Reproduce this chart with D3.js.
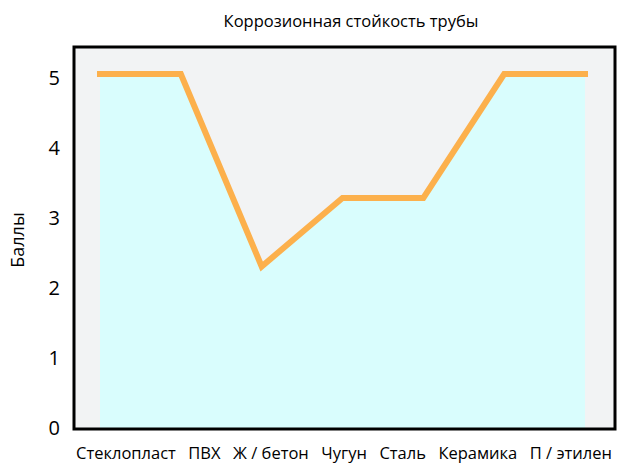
<!DOCTYPE html>
<html>
<head>
<meta charset="utf-8">
<script src="https://cdn.jsdelivr.net/npm/d3@7"></script>
<style>
  html, body { margin: 0; padding: 0; background: #ffffff; }
  svg { display: block; }
  text { font-family: "Open Sans", "Noto Sans", sans-serif; fill: #000; }
</style>
</head>
<body>
<svg id="chart" width="623" height="472"></svg>
<script>
// ---- data ----
const title = "Коррозионная стойкость трубы";
const yLabel = "Баллы";
const categories = ["Стеклопласт", "ПВХ", "Ж / бетон", "Чугун", "Сталь", "Керамика", "П / этилен"];
const values = [5, 5, 2.25, 3.23, 3.23, 5, 5];
const yTicks = [0, 1, 2, 3, 4, 5];

// ---- layout ----
const frame = { left: 74, top: 47, right: 615, bottom: 429 };
const svg = d3.select("#chart");

const x = d3.scalePoint().domain(categories).range([100, 585]);
const y = d3.scaleLinear().domain([0, 5]).range([424, 74]);

// background of plot
svg.append("rect")
  .attr("x", frame.left).attr("y", frame.top)
  .attr("width", frame.right - frame.left).attr("height", frame.bottom - frame.top)
  .attr("fill", "#f2f3f4");

const pts = categories.map((c, i) => ({ c, v: values[i] }));

// area
const area = d3.area()
  .x(d => x(d.c))
  .y0(frame.bottom)
  .y1(d => y(d.v));
svg.append("path").datum(pts)
  .attr("d", area)
  .attr("fill", "#d9fdfd");

// line
const line = d3.line().x(d => x(d.c)).y(d => y(d.v));
svg.append("path").datum(pts)
  .attr("d", line)
  .attr("fill", "none")
  .attr("stroke", "#fcb04c")
  .attr("stroke-width", 6)
  .attr("stroke-linecap", "square")
  .attr("stroke-linejoin", "miter");

// frame
svg.append("rect")
  .attr("x", frame.left).attr("y", frame.top)
  .attr("width", frame.right - frame.left).attr("height", frame.bottom - frame.top)
  .attr("fill", "none")
  .attr("stroke", "#000")
  .attr("stroke-width", 3);

// y axis labels
const yAxis = d3.axisLeft(y).tickValues(yTicks).tickSize(0).tickPadding(0).tickFormat(d3.format("d"));
const gy = svg.append("g").attr("transform", "translate(60,4)").call(yAxis);
gy.select(".domain").remove();
gy.selectAll("text")
  .attr("font-family", "'Open Sans', sans-serif")
  .attr("font-size", 20)
  .attr("fill", "#000");

// x labels: laid out as a justified row under the frame
const fs = 16.5;
const gx = svg.append("g");
const labels = gx.selectAll("text").data(categories).join("text")
  .attr("font-size", fs)
  .attr("y", 459)
  .text(d => d);
const widths = [];
labels.each(function () { widths.push(this.getComputedTextLength()); });
const rowStart = 76, rowEnd = 612;
const total = d3.sum(widths);
const gap = (rowEnd - rowStart - total) / (categories.length - 1);
let cx = rowStart;
labels.attr("x", (d, i) => { const p = cx; cx += widths[i] + gap; return p; });

// title
svg.append("text")
  .attr("x", 351).attr("y", 27)
  .attr("text-anchor", "middle")
  .attr("font-size", 16.5)
  .text(title);

// y axis title
svg.append("text")
  .attr("transform", "translate(24,240) rotate(-90)")
  .attr("text-anchor", "middle")
  .attr("font-size", 18)
  .text(yLabel);
</script>
</body>
</html>
